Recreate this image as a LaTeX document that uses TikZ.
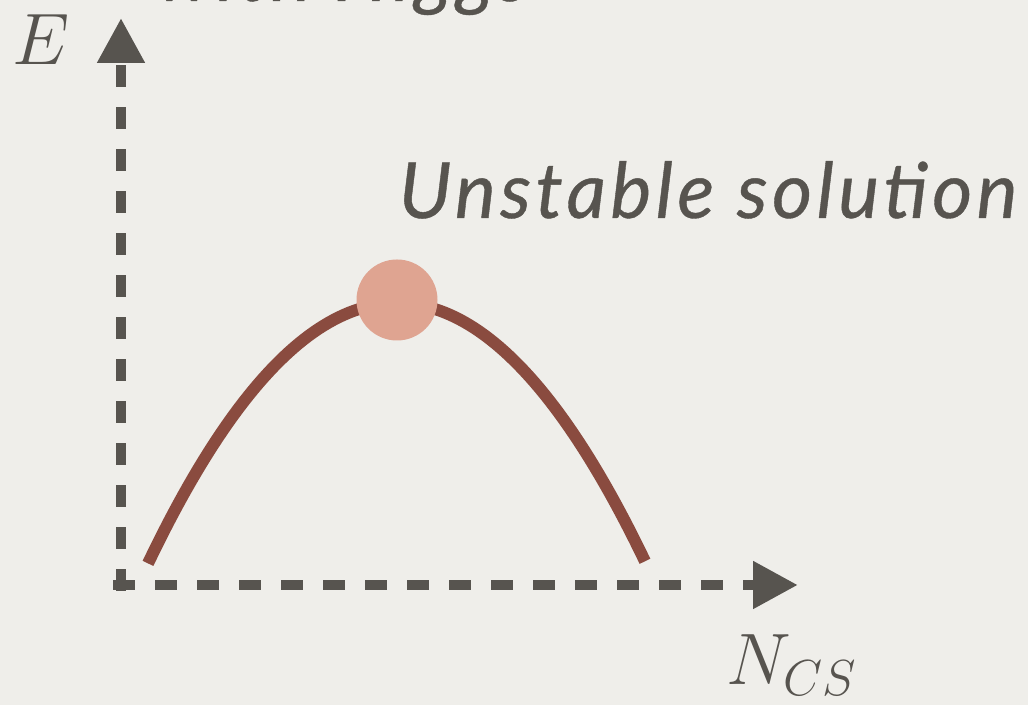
\documentclass[tikz,border=0pt]{standalone}
\usepackage{fontspec}
\newfontfamily\labelfont{Lato}[LetterSpace=5.6, FakeBold=0.5]
\usetikzlibrary{arrows.meta}
\definecolor{paper}{HTML}{EFEEEA}
\definecolor{axisgray}{HTML}{57544F}
\definecolor{curvebrown}{HTML}{8A4B3F}
\definecolor{dotpink}{HTML}{DFA491}
\tikzset{
  axis/.style={line width=3.1pt, axisgray, dash pattern=on 0.22cm off 0.2cm,
    -{Triangle[length=0.45cm,width=0.45cm]}},
  caption/.style={font=\labelfont\itshape\fontsize{22}{26}\selectfont,
    text=axisgray, inner sep=0pt},
  axislabel/.style={font=\fontsize{20}{24}\selectfont, text=axisgray, inner sep=0pt},
}
\begin{document}
\begin{tikzpicture}
    \useasboundingbox (0,0) rectangle (10.28,7.05);
    \clip (0,0) rectangle (10.28,7.05);
    \fill[paper] (0,0) rectangle (10.28,7.05);

    % 1. Axes E and N_CS
    \coordinate (Etip) at (1.21,6.87);
    \coordinate (Ntip) at (7.98,1.20);
    \draw[axis] (1.21,1.14) -- (Etip);
    \draw[axis] (1.13,1.20) -- (Ntip);
    \node[axislabel] (Elabel) at (0.41,6.65) {$E$};
    \node[axislabel] (Nlabel) at (7.92,0.40) {$N_{CS}$};

    % 2. Energy barrier (parabola through the top point)
    \draw[curvebrown, line width=3.4pt, samples=100, domain=1.48:6.45]
        plot (\x, {4.02-0.42*(\x-3.97)*(\x-3.97)});

    % 3. Top of the barrier
    \node[circle, fill=dotpink, minimum size=0.81cm, inner sep=0pt] (peak) at (3.97,4.05) {};
    \node[caption, anchor=base west] (unstable) at (3.98,4.87) {Unstable solution};

    % 4. Text cut at the top edge
    \node[caption, anchor=base east] (higgs) at (5.30,7.04) {with Higgs};
\end{tikzpicture}
\end{document}
